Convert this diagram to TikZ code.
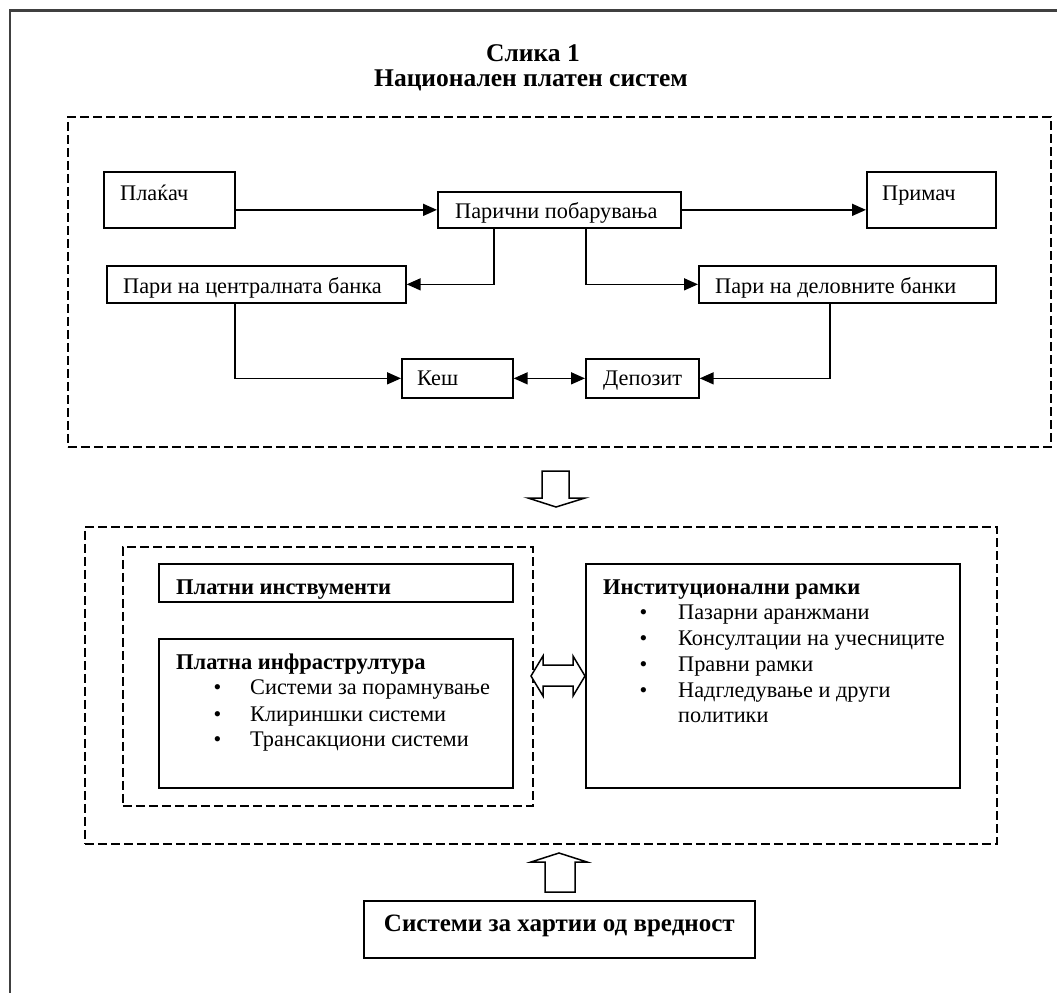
\documentclass[tikz,border=0pt]{standalone}
\usepackage{fontspec}
\setmainfont{Liberation Serif}
\usetikzlibrary{arrows.meta,calc}
\begin{document}
\begin{tikzpicture}[x=1pt,y=-1pt,
  box/.style={draw, line width=1.7pt, inner sep=0pt, anchor=north west},
  dbox/.style={draw, line width=1.6pt, inner sep=0pt, anchor=north west, dash pattern=on 9pt off 4pt},
  lbl/.style={anchor=base west, inner sep=0pt, font=\fontsize{22.3}{26}\selectfont},
  hd/.style={anchor=base west, inner sep=0pt, font=\fontsize{22.5}{26}\selectfont\bfseries},
  bul/.style={anchor=base, inner sep=0pt, font=\fontsize{22}{26}\selectfont},
  ttl/.style={anchor=center, inner sep=0pt, font=\fontsize{25.5}{30}\selectfont\bfseries},
  arr/.style={line width=1.6pt, -{Triangle[length=14pt,width=12pt]}},
  darr/.style={line width=1.6pt, {Triangle[length=14pt,width=12pt]}-{Triangle[length=14pt,width=12pt]}},
  blk/.style={draw, line width=1.5pt, fill=white, line join=miter}
]
\useasboundingbox (0,0) rectangle (1057,993);
% outer frame (top and left visible)
\draw[line width=2.2pt, black!75] (1057,10.5) -- (10,10.5) -- (10,993);

% title
\node[ttl] (title1) at (533,53) {Слика 1};
\node[ttl] (title2) at (531,80) {Национален платен систем};

% upper group
\node[dbox, minimum width=983pt, minimum height=330pt] (grp1) at (67,116) {};

\node[box, minimum width=131pt, minimum height=56pt] (plakac) at (103,171) {};
\node[lbl] (t-plakac) at ($(plakac.north west)+(17,29)$) {Плаќач};

\node[box, minimum width=243pt, minimum height=36pt] (paricni) at (437,191) {};
\node[lbl] (t-paricni) at ($(paricni.north west)+(18,27)$) {Парични побарувања};

\node[box, minimum width=129pt, minimum height=56pt] (primac) at (866,171) {};
\node[lbl] (t-primac) at ($(primac.north west)+(16,29)$) {Примач};

\node[box, minimum width=299pt, minimum height=37pt] (centralna) at (106,265) {};
\node[lbl] (t-centralna) at ($(centralna.north west)+(17,28)$) {Пари на централната банка};

\node[box, minimum width=297pt, minimum height=37pt] (delovni) at (698,265) {};
\node[lbl] (t-delovni) at ($(delovni.north west)+(17,28)$) {Пари на деловните банки};

\node[box, minimum width=111pt, minimum height=39pt] (kes) at (401,358) {};
\node[lbl] (t-kes) at ($(kes.north west)+(16,27)$) {Кеш};

\node[box, minimum width=113pt, minimum height=39pt] (depozit) at (585,358) {};
\node[lbl] (t-depozit) at ($(depozit.north west)+(18,27)$) {Депозит};

\draw[arr] (paricni.west -| plakac.east) -- (paricni.west);
\draw[arr] (paricni.east) -- (paricni.east -| primac.west);
\draw[arr] ([xshift=-65.5pt]paricni.south) |- (centralna.east);
\draw[arr] ([xshift=26.5pt]paricni.south) |- (delovni.west);
\draw[arr] ([xshift=-21.5pt]centralna.south) |- (kes.west);
\draw[arr] ([xshift=-17.5pt]delovni.south) |- (depozit.east);
\draw[darr] (kes.east) -- (depozit.west);

% block arrow down
\draw[blk] (542,471) -- (569,471) -- (569,498) -- (585,498) -- (556,507) -- (528,498) -- (542,498) -- cycle;

% lower group
\node[dbox, minimum width=912pt, minimum height=317pt] (grp2) at (84,526) {};
\node[dbox, minimum width=410pt, minimum height=259pt] (grp3) at (122,546) {};

\node[box, minimum width=354pt, minimum height=38pt] (instr) at (158,563) {};
\node[hd] (t-instr) at ($(instr.north west)+(18,31)$) {Платни инствументи};

\node[box, minimum width=354pt, minimum height=149pt] (infra) at (158,638) {};
\node[hd] (t-infra) at ($(infra.north west)+(18,31)$) {Платна инфрастрултура};
\node[bul] (b-i1) at (217.5,694) {•};
\node[lbl] (t-i1) at (250,694) {Системи за порамнување};
\node[bul] (b-i2) at (217.5,721) {•};
\node[lbl] (t-i2) at (250,721) {Клириншки системи};
\node[bul] (b-i3) at (217.5,746) {•};
\node[lbl] (t-i3) at (250,746) {Трансакциони системи};

\node[box, minimum width=374pt, minimum height=224pt] (inst) at (585,563) {};
\node[hd] (t-inst) at ($(inst.north west)+(18,31)$) {Институционални рамки};
\node[bul] (b-n1) at (643.5,619) {•};
\node[lbl] (t-n1) at (678,619) {Пазарни аранжмани};
\node[bul] (b-n2) at (643.5,645) {•};
\node[lbl] (t-n2) at (678,645) {Консултации на учесниците};
\node[bul] (b-n3) at (643.5,671) {•};
\node[lbl] (t-n3) at (678,671) {Правни рамки};
\node[bul] (b-n4) at (643.5,697) {•};
\node[lbl] (t-n4) at (678,697) {Надгледување и други};
\node[lbl] (t-n5) at (678,722) {политики};

% double block arrow
\draw[blk] (531,676) -- (543,656) -- (543,665) -- (573,665) -- (573,656) -- (585,676) -- (573,696) -- (573,686) -- (543,686) -- (543,696) -- cycle;

% up block arrow
\draw[blk] (545,892) -- (545,862) -- (531,862) -- (559,853) -- (587,862) -- (575,862) -- (575,892) -- cycle;

\node[box, minimum width=391pt, minimum height=57pt] (hartii) at (363,900) {};
\node[anchor=center, inner sep=0pt, font=\fontsize{25}{30}\selectfont\bfseries] (t-hartii) at ($(hartii.center)+(0,-3)$) {Системи за хартии од вредност};
\end{tikzpicture}
\end{document}
